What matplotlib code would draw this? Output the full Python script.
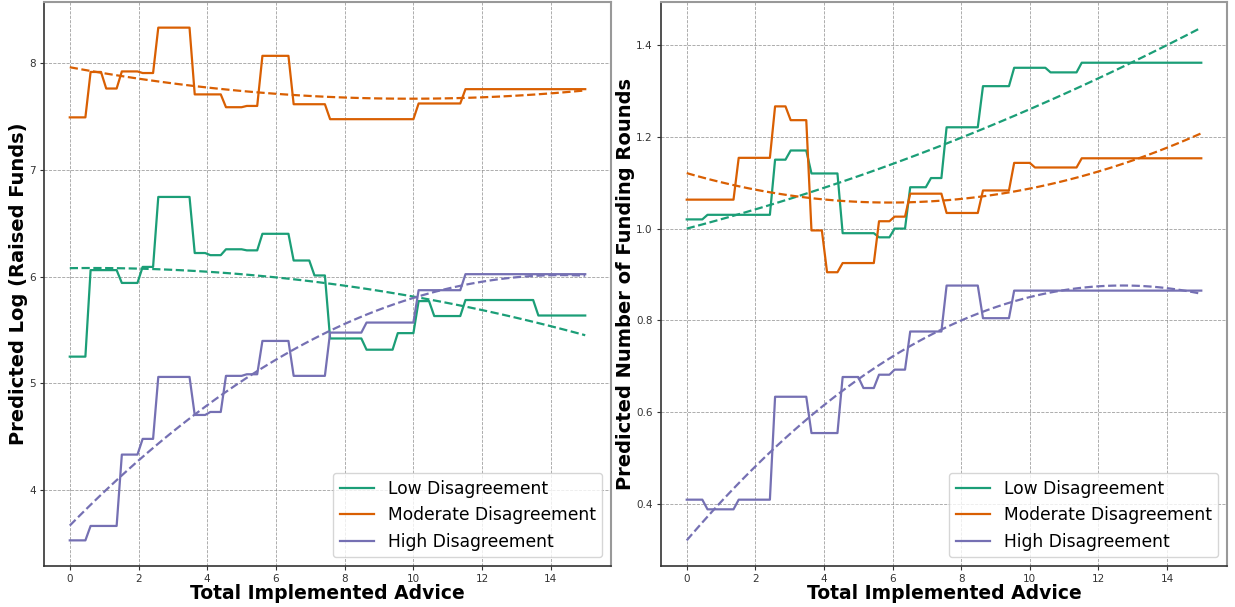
import numpy as np
import matplotlib
matplotlib.use("Agg")
import matplotlib.pyplot as plt

# Evaluation grid for the number of implemented pieces of advice
advice = np.linspace(0, 15, 100)

groups = ["Low Disagreement", "Moderate Disagreement", "High Disagreement"]
colors = ["#1b9e77", "#d95f02", "#7570b3"]

# ---- Predicted log(raised funds): piecewise-constant model predictions ----
funds_low_breaks = [0.5, 1.5, 2.05, 2.5, 3.5, 4.0, 4.5, 5.05, 5.5, 6.5, 7.05, 7.5,
                    8.5, 9.5, 10.05, 10.5, 11.5, 13.5]
funds_low_levels = [5.25, 6.06, 5.94, 6.09, 6.745, 6.22, 6.20, 6.255, 6.245, 6.40,
                    6.15, 6.01, 5.42, 5.315, 5.47, 5.77, 5.63, 5.78, 5.635]

funds_mod_breaks = [0.5, 1.0, 1.45, 2.05, 2.5, 3.55, 4.45, 5.05, 5.5, 6.45, 7.5,
                    10.05, 11.45]
funds_mod_levels = [7.49, 7.915, 7.76, 7.92, 7.905, 8.33, 7.705, 7.585, 7.597, 8.066,
                    7.613, 7.473, 7.62, 7.754]

funds_high_breaks = [0.5, 1.45, 2.05, 2.5, 3.55, 4.0, 4.45, 5.05, 5.5, 6.45, 7.5,
                     8.55, 10.05, 11.45]
funds_high_levels = [3.53, 3.665, 4.333, 4.48, 5.06, 4.704, 4.732, 5.07, 5.085, 5.397,
                     5.07, 5.475, 5.569, 5.872, 6.022]

# Quadratic trend of raised funds, read at a few points along each curve
funds_trend_x = {
    "low": [0, 4, 8, 10, 15],
    "mod": [0, 4, 10, 15],
    "high": [0, 2, 4, 6, 10, 15],
}
funds_trend_y = {
    "low": [6.08, 6.04, 5.92, 5.81, 5.45],
    "mod": [7.957, 7.775, 7.66, 7.744],
    "high": [3.68, 4.28, 4.76, 5.23, 5.82, 6.0],
}

# ---- Predicted number of funding rounds ----
rounds_low_breaks = [0.5, 2.5, 2.95, 3.55, 4.45, 5.55, 6.0, 6.45, 7.05, 7.5, 8.55,
                     9.45, 10.5, 11.45]
rounds_low_levels = [1.02, 1.03, 1.15, 1.17, 1.12, 0.99, 0.981, 1.0, 1.09, 1.11,
                     1.2205, 1.31, 1.35, 1.34, 1.361]

rounds_mod_breaks = [1.45, 2.5, 2.95, 3.55, 4.0, 4.45, 5.55, 6.0, 6.45, 7.5, 8.55,
                     9.45, 10.05, 11.45]
rounds_mod_levels = [1.063, 1.154, 1.266, 1.236, 0.996, 0.905, 0.925, 1.016, 1.026,
                     1.076, 1.034, 1.083, 1.143, 1.133, 1.153]

rounds_high_breaks = [0.5, 1.45, 2.5, 3.55, 4.45, 5.05, 5.5, 6.0, 6.45, 7.5, 8.55, 9.45]
rounds_high_levels = [0.41, 0.389, 0.41, 0.634, 0.555, 0.677, 0.653, 0.682, 0.693,
                      0.776, 0.876, 0.805, 0.865]

rounds_trend_x = {
    "low": [0, 4, 8, 12, 15],
    "mod": [0, 4, 8, 12, 15],
    "high": [0, 4, 8, 12, 15],
}
rounds_trend_y = {
    "low": [1.0, 1.089, 1.197, 1.328, 1.437],
    "mod": [1.121, 1.063, 1.0645, 1.125, 1.207],
    "high": [0.322, 0.614, 0.8015, 0.874, 0.858],
}


def step_values(breaks, levels):
    idx = np.searchsorted(np.asarray(breaks), advice, side="right")
    return np.asarray(levels)[idx]


def trend(xs, ys):
    coef = np.polyfit(xs, ys, 2)
    return np.polyval(coef, advice)


def style_axes(ax):
    ax.grid(True, linestyle="--", linewidth=0.6, color="#888888", alpha=0.8)
    ax.set_axisbelow(True)
    ax.tick_params(labelsize=7.5, colors="#333333", length=3, pad=3)
    for side in ("left", "bottom"):
        ax.spines[side].set_color("#333333")
        ax.spines[side].set_linewidth(1.2)
    for side in ("top", "right"):
        ax.spines[side].set_color("#999999")
        ax.spines[side].set_linewidth(1.5)


fig = plt.figure(figsize=(12.35, 6.07), dpi=100)
ax1 = fig.add_axes([44 / 1235, 41 / 607, 567 / 1235, 564 / 607])
ax2 = fig.add_axes([661 / 1235, 41 / 607, 566 / 1235, 564 / 607])

panels = [
    (ax1,
     [(funds_low_breaks, funds_low_levels), (funds_mod_breaks, funds_mod_levels),
      (funds_high_breaks, funds_high_levels)],
     funds_trend_x, funds_trend_y, "Predicted Log (Raised Funds)"),
    (ax2,
     [(rounds_low_breaks, rounds_low_levels), (rounds_mod_breaks, rounds_mod_levels),
      (rounds_high_breaks, rounds_high_levels)],
     rounds_trend_x, rounds_trend_y, "Predicted Number of Funding Rounds"),
]

for ax, series, tx, ty, ylabel in panels:
    for (brk, lvl), key, name, col in zip(series, ["low", "mod", "high"], groups, colors):
        ax.plot(advice, step_values(brk, lvl), color=col, linewidth=1.6, label=name)
        ax.plot(advice, trend(tx[key], ty[key]), color=col, linewidth=1.6,
                linestyle="--")
    style_axes(ax)
    ax.set_xlabel("Total Implemented Advice", fontsize=13.5, fontweight="bold",
                  labelpad=0)
    ax.set_ylabel(ylabel, fontsize=14, fontweight="bold", labelpad=1)
    ax.legend(loc="lower right", fontsize=12.3)

fig.savefig("out.png", dpi=100)
